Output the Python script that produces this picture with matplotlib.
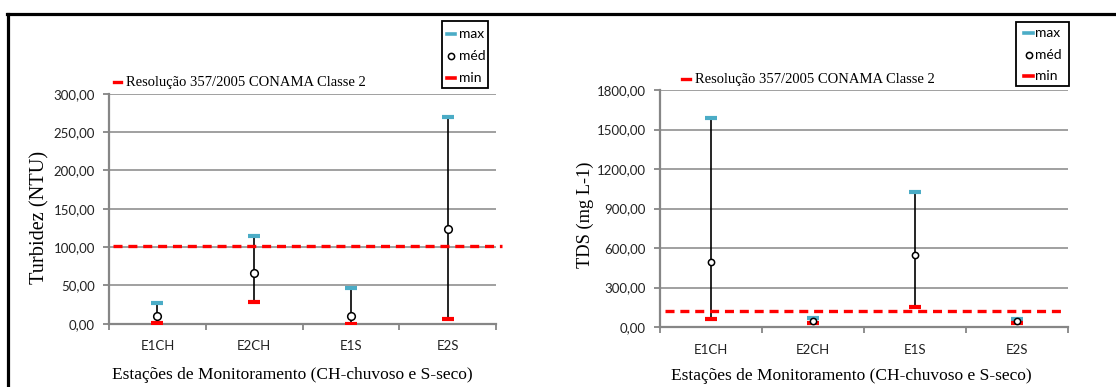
import matplotlib
matplotlib.use("Agg")
import matplotlib.pyplot as plt
from matplotlib.lines import Line2D
from matplotlib.patches import Rectangle
from matplotlib.ticker import FuncFormatter

plt.rcParams['lines.scale_dashes'] = False

stations = ["E1CH", "E2CH", "E1S", "E2S"]

turb_max = [27, 115, 46, 269]
turb_med = [10, 66, 10, 123]
turb_min = [1, 28, 0, 6]
turb_limit = 101

tds_max = [1587, 70, 1028, 61]
tds_med = [491, 45, 545, 45]
tds_min = [58, 33, 152, 33]
tds_limit = 120

turb_yticks = [0, 50, 100, 150, 200, 250, 300]
tds_yticks = [0, 300, 600, 900, 1200, 1500, 1800]

legend_labels = ["max", "méd", "min"]

CYAN = "#4BACC6"
RED = "#FF0000"
GRAY = "#868686"
SANS = "Lato"
SERIF = "Liberation Serif"

W, H = 1116, 387
fig = plt.figure(figsize=(W / 100, H / 100), dpi=100)


def fx(px):
    return px / W


def fy(py):
    return 1 - py / H


# outer frame (top and left edges visible)
fig.add_artist(Line2D([fx(7), 1.0], [fy(13.5), fy(13.5)], color="black",
                      lw=2.3, transform=fig.transFigure))
fig.add_artist(Line2D([fx(8), fx(8)], [0.0, fy(13.5)], color="black", lw=2.3,
                      transform=fig.transFigure))


def comma_fmt(v, pos):
    return f"{v:.2f}".replace(".", ",")


def draw_legend(box, rows_y, dash_x, text_x, ms):
    x0, y0, x1, y1 = box
    fig.add_artist(Rectangle((fx(x0), fy(y1)), fx(x1) - fx(x0),
                             fy(y0) - fy(y1), transform=fig.transFigure,
                             fill=True, facecolor="white", edgecolor="black",
                             lw=1.3, zorder=10))
    colors = [CYAN, None, RED]
    for lab, ry, c in zip(legend_labels, rows_y, colors):
        if c is None:
            fig.add_artist(Line2D([fx((dash_x[0] + dash_x[1]) / 2)], [fy(ry)],
                                  ls="none", marker="o", ms=ms, mfc="white",
                                  mec="black", mew=1.1,
                                  transform=fig.transFigure, zorder=11))
        else:
            fig.add_artist(Line2D([fx(dash_x[0]), fx(dash_x[1])],
                                  [fy(ry), fy(ry)], color=c, lw=2.6,
                                  transform=fig.transFigure, zorder=11))
        fig.text(fx(text_x), fy(ry), lab, fontfamily=SANS, fontsize=10,
                 va="center", ha="left", zorder=11)


def panel(rect, mx, md, mn, limit, yticks, ylabel, ylab_xy, xlab_xy, reso_xy,
          limit_x, ylab_size, ms):
    ax = fig.add_axes(rect)
    x = list(range(len(stations)))
    ax.set_xlim(-0.5, len(stations) - 0.5)
    ax.set_ylim(yticks[0], yticks[-1])
    ax.set_yticks(yticks)
    ax.yaxis.set_major_formatter(FuncFormatter(comma_fmt))
    ax.set_xticks(x)
    ax.set_xticklabels(stations)
    ax.set_xticks([i - 0.5 for i in range(len(stations) + 1)], minor=True)
    ax.tick_params(axis="x", which="major", length=0, pad=12,
                   labelsize=9.5, labelcolor="#222222")
    ax.tick_params(axis="x", which="minor", length=4, width=1.3, color=GRAY,
                   direction="out")
    ax.tick_params(axis="y", length=4, width=1.3, color=GRAY, pad=6,
                   labelsize=9.5, labelcolor="#222222")
    for lab in ax.get_xticklabels() + ax.get_yticklabels():
        lab.set_fontfamily(SANS)
    for s in ["top", "right"]:
        ax.spines[s].set_visible(False)
    for s in ["left", "bottom"]:
        ax.spines[s].set_color(GRAY)
        ax.spines[s].set_linewidth(1.6)
    ax.grid(axis="y", color=GRAY, lw=1.1)
    ax.set_axisbelow(True)

    ax.vlines(x, mn, mx, color="black", lw=1.2, zorder=3)
    ax.plot(x, mx, ls="none", marker="_", ms=9, mew=3, color=CYAN, zorder=4)
    ax.plot(x, mn, ls="none", marker="_", ms=9, mew=3, color=RED, zorder=4)
    ax.plot(x, md, ls="none", marker="o", ms=ms, mew=1.1, mfc="white",
            mec="black", zorder=5)
    ax.plot(limit_x, [limit, limit], color=RED, lw=2.4, dashes=(6.5, 4.2),
            transform=ax.get_yaxis_transform(), clip_on=False, zorder=6)

    ax.set_ylabel(ylabel, fontfamily=SERIF, fontsize=ylab_size, va="center")
    ax.yaxis.set_label_coords(*ylab_xy)
    ax.set_xlabel("Estações de Monitoramento (CH-chuvoso e S-seco)",
                  fontfamily=SERIF, fontsize=12.5, va="center")
    ax.xaxis.set_label_coords(*xlab_xy)

    # CONAMA legend entry
    rx, ry = reso_xy
    ax.add_line(Line2D([rx, rx + 0.018], [ry, ry], color=RED, lw=2.4,
                       transform=ax.transAxes, clip_on=False))
    ax.text(rx + 0.032, ry, "Resolução 357/2005 CONAMA Classe 2",
            transform=ax.transAxes, fontfamily=SERIF, fontsize=10.5,
            va="center", ha="left")
    return ax


panel([fx(109), fy(323.7), fx(496) - fx(109), (323.7 - 93.7) / H],
      turb_max, turb_med, turb_min, turb_limit, turb_yticks,
      "Turbidez (NTU)", (-0.178, 0.46), (0.473, -0.223), (0.012, 1.05),
      [0.01, 1.016], 14.7, 5.5)
draw_legend((441.7, 21.3, 487.7, 88.3), (33.7, 55.7, 78.3), (446.7, 455),
            458.5, 4.5)

panel([fx(660), fy(327), fx(1067.7) - fx(660), (327 - 90) / H],
      tds_max, tds_med, tds_min, tds_limit, tds_yticks,
      "TDS (mg L-1)", (-0.184, 0.473), (0.469, -0.207), (0.055, 1.045),
      [0.012, 0.99], 13.2, 4.5)
draw_legend((1016, 22.3, 1068.7, 86), (33.3, 55, 76.3), (1024.3, 1032.7),
            1035.5, 4.5)

fig.savefig("out.png", dpi=100)
